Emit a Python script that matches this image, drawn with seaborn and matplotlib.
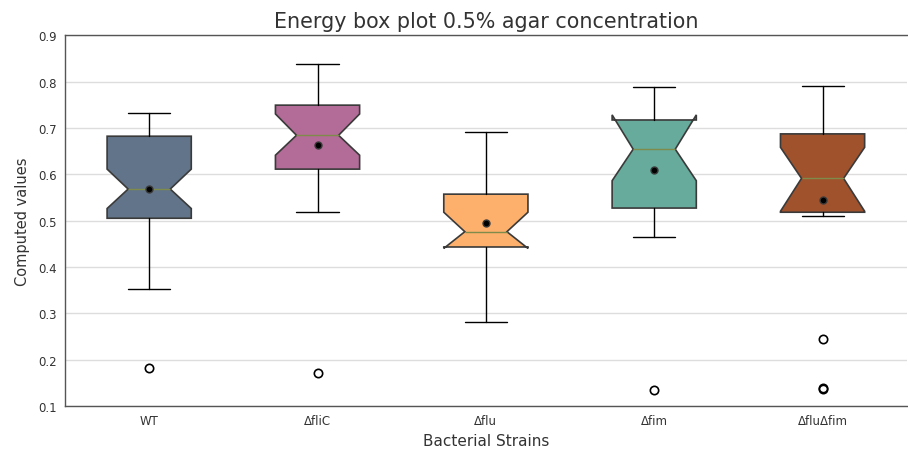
import matplotlib
matplotlib.use("Agg")
import matplotlib.pyplot as plt
import seaborn as sns

# Summary statistics per strain (energy, 0.5% agar)
strains = ["WT", "ΔfliC", "Δflu", "Δfim", "ΔfluΔfim"]
medians = [0.568, 0.684, 0.476, 0.654, 0.591]
q1 = [0.505, 0.611, 0.443, 0.527, 0.518]
q3 = [0.682, 0.749, 0.557, 0.717, 0.687]
whisker_low = [0.352, 0.518, 0.281, 0.464, 0.510]
whisker_high = [0.732, 0.838, 0.692, 0.789, 0.791]
notch_low = [0.526, 0.641, 0.440, 0.586, 0.520]
notch_high = [0.611, 0.730, 0.518, 0.728, 0.658]
means = [0.569, 0.664, 0.495, 0.610, 0.545]
outliers = [[0.182], [0.171], [], [0.135], [0.245, 0.139, 0.136]]

box_colors = ["#627489", "#b36b97", "#fdb06c", "#66ab9b", "#a0522d"]

sns.set_style("white")
plt.rcParams["font.family"] = ["DejaVu Sans"]

stats = []
for i, name in enumerate(strains):
    stats.append(dict(
        label=name, med=medians[i], q1=q1[i], q3=q3[i],
        whislo=whisker_low[i], whishi=whisker_high[i],
        cilo=notch_low[i], cihi=notch_high[i],
        mean=means[i], fliers=outliers[i],
    ))

fig = plt.figure(figsize=(9.08, 4.52), dpi=100)
ax = fig.add_axes([0.0716, 0.0996, 0.927, 0.8204])

bp = ax.bxp(
    stats, shownotches=True, showmeans=True, patch_artist=True,
    boxprops=dict(edgecolor="#3a3a3a", linewidth=1.2),
    whiskerprops=dict(color="black", linewidth=1.0),
    capprops=dict(color="black", linewidth=1.0),
    medianprops=dict(color="#7f8b4a", linewidth=1.0),
    meanprops=dict(marker="o", markerfacecolor="black",
                   markeredgecolor="#3a3a3a", markersize=5),
    flierprops=dict(marker="o", markerfacecolor="none",
                    markeredgecolor="black", markersize=6,
                    markeredgewidth=1.2),
)
for patch, c in zip(bp["boxes"], box_colors):
    patch.set_facecolor(c)

ax.set_ylim(0.1, 0.9)
ax.set_xlim(0.5, 5.5)
ax.set_yticks([0.1, 0.2, 0.3, 0.4, 0.5, 0.6, 0.7, 0.8, 0.9])
ax.yaxis.grid(True, color="#dddddd", linewidth=1.0)
ax.xaxis.grid(False)
ax.set_axisbelow(True)

for side in ["left", "bottom", "top"]:
    ax.spines[side].set_color("#555555")
    ax.spines[side].set_linewidth(1.0)
ax.spines["right"].set_visible(False)

ax.tick_params(axis="both", length=0, labelsize=8.5, labelcolor="#333333", pad=6)
ax.set_title("Energy box plot 0.5% agar concentration", fontsize=14.9,
             color="#333333", pad=6)
ax.set_xlabel("Bacterial Strains", fontsize=11, color="#333333", labelpad=4)
ax.set_ylabel("Computed values", fontsize=10.5, color="#333333", labelpad=6)

fig.savefig("out.png", dpi=100)
